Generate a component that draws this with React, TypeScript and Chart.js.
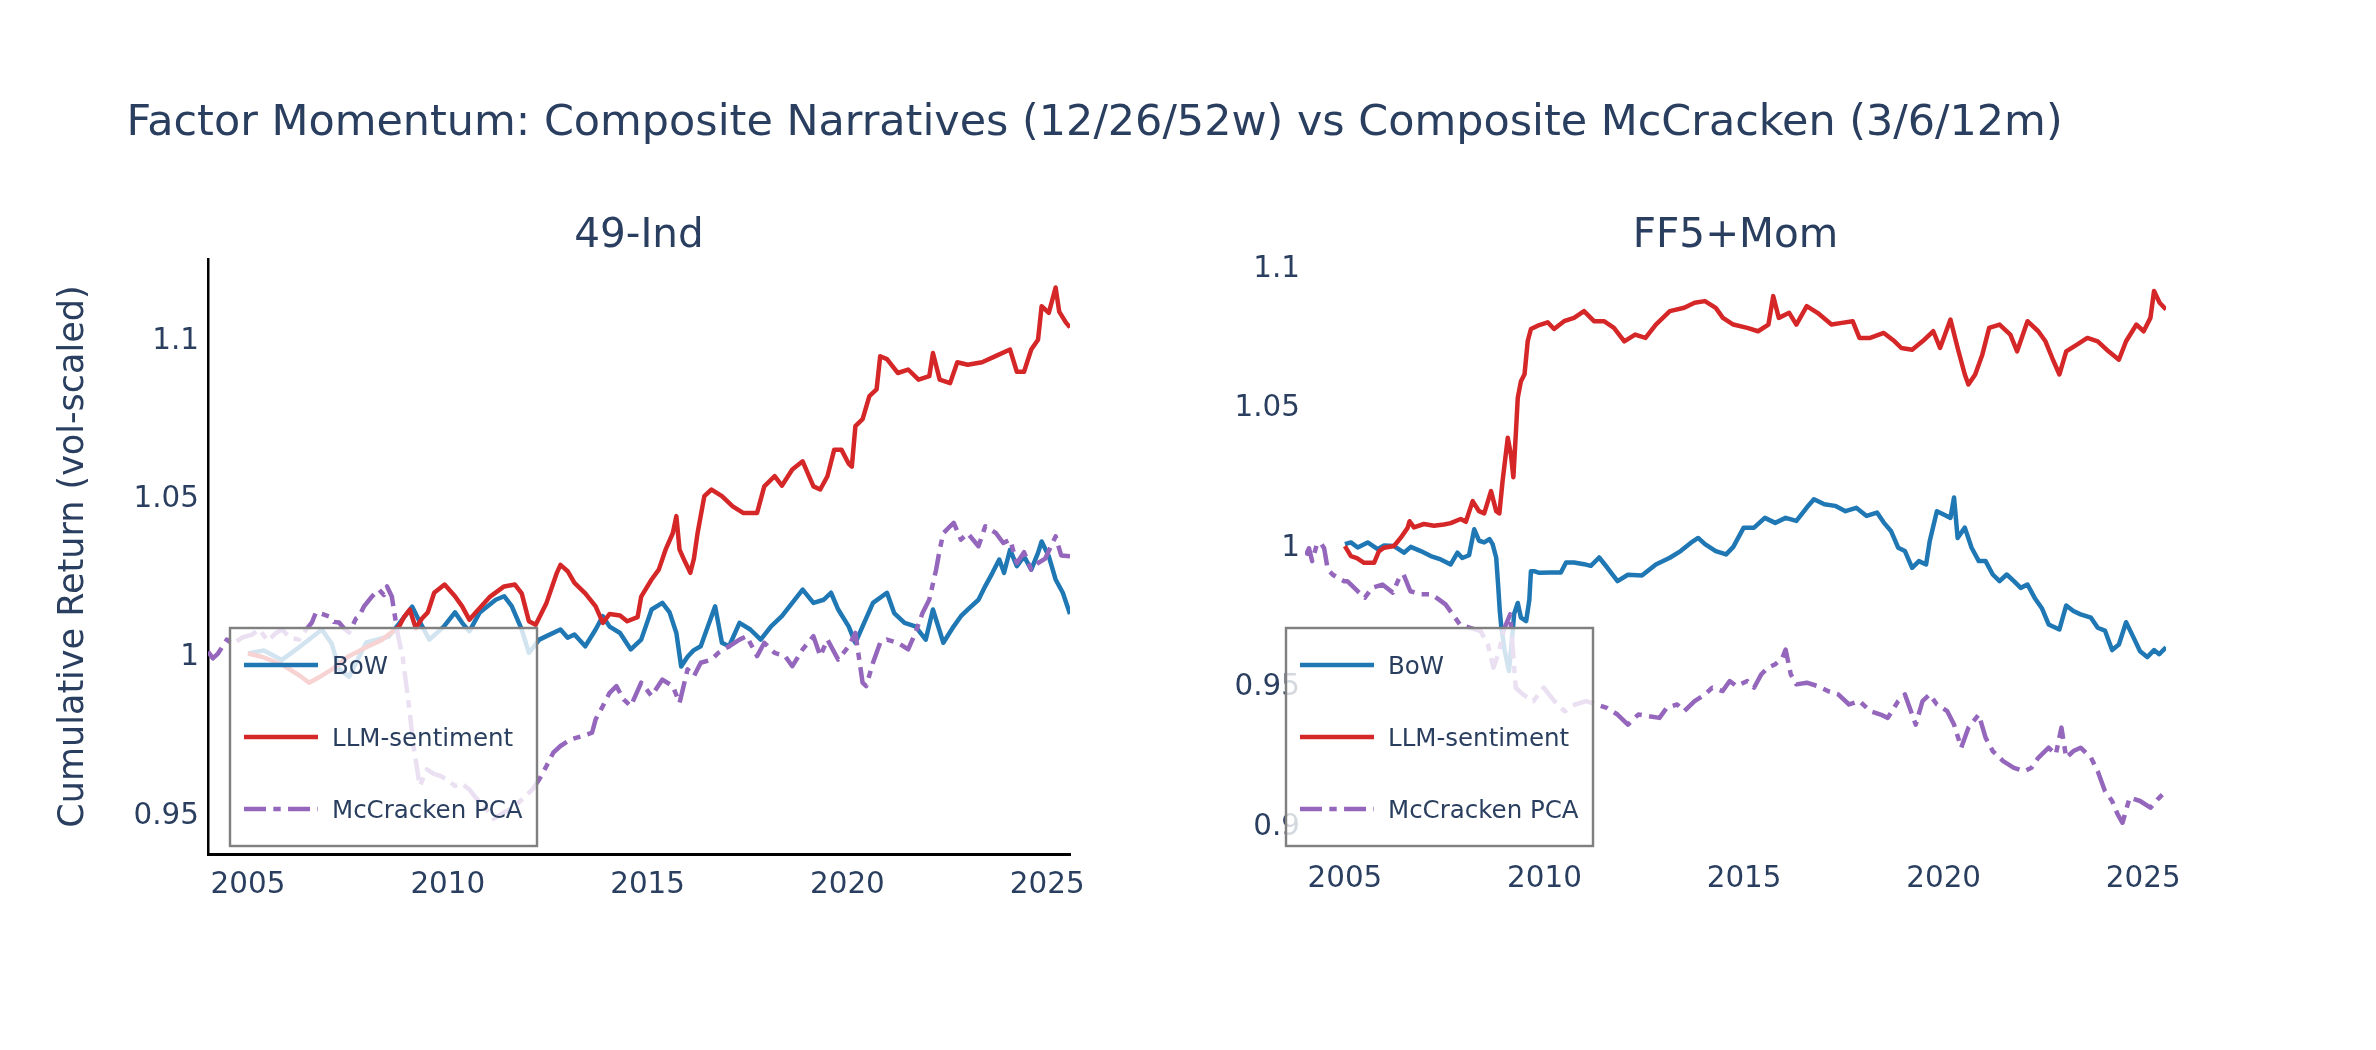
import React, { useEffect, useRef } from "react";
import { Chart, registerables } from "chart.js";

Chart.register(...registerables);

const FONT = "'DejaVu Sans', Verdana, sans-serif";
const INK = "#2a3f5f";

const MAIN_TITLE = "Factor Momentum: Composite Narratives (12/26/52w) vs Composite McCracken (3/6/12m)";
const PANEL_TITLES = ["49-Ind", "FF5+Mom"];
const Y_TITLE = "Cumulative Return (vol-scaled)";
const SERIES_NAMES = ["BoW", "LLM-sentiment", "McCracken PCA"];
const SERIES_COLORS = ["#1f77b4", "#d62728", "#9467bd"];

const YEAR_TICKS = [2005, 2010, 2015, 2020, 2025];
const IND_Y_TICKS = [0.95, 1, 1.05, 1.1];
const FF5_Y_TICKS = [0.9, 0.95, 1, 1.05, 1.1];

// ---------- 49-Ind panel ----------
const IND_BOW_T = [2005.0, 2005.4, 2005.85, 2006.28, 2006.85, 2007.1, 2007.28, 2007.53, 2007.96, 2008.53, 2008.86, 2009.11, 2009.3, 2009.54, 2009.9, 2010.18, 2010.36, 2010.54, 2010.8, 2011.2, 2011.41, 2011.6, 2011.85, 2012.03, 2012.29, 2012.47, 2012.82, 2013.0, 2013.17, 2013.44, 2013.7, 2013.88, 2014.05, 2014.31, 2014.58, 2014.84, 2015.1, 2015.37, 2015.55, 2015.72, 2015.84, 2016.0, 2016.15, 2016.33, 2016.51, 2016.69, 2016.86, 2017.04, 2017.3, 2017.57, 2017.83, 2018.09, 2018.36, 2018.62, 2018.88, 2019.15, 2019.41, 2019.59, 2019.77, 2020.03, 2020.2, 2020.38, 2020.64, 2020.99, 2021.17, 2021.43, 2021.7, 2021.96, 2022.14, 2022.4, 2022.66, 2022.84, 2023.01, 2023.28, 2023.45, 2023.63, 2023.8, 2023.92, 2024.07, 2024.24, 2024.42, 2024.6, 2024.77, 2024.86, 2025.04, 2025.21, 2025.39, 2025.57];
const IND_BOW_V = [1.0, 1.001, 0.998, 1.002, 1.0076, 1.003, 0.995, 0.9927, 1.0035, 1.0054, 1.0107, 1.0148, 1.01, 1.0044, 1.0085, 1.013, 1.0097, 1.007, 1.013, 1.017, 1.0181, 1.015, 1.0076, 1.0002, 1.0044, 1.0055, 1.0076, 1.005, 1.006, 1.0023, 1.0076, 1.0118, 1.0085, 1.0065, 1.0013, 1.0044, 1.0139, 1.016, 1.013, 1.0065, 0.9959, 0.999, 1.001, 1.0023, 1.0086, 1.0149, 1.0034, 1.0023, 1.0097, 1.0076, 1.0044, 1.0086, 1.0118, 1.016, 1.0202, 1.016, 1.017, 1.0192, 1.0139, 1.0086, 1.0034, 1.0086, 1.016, 1.0192, 1.0128, 1.0097, 1.0086, 1.0044, 1.0139, 1.0034, 1.0086, 1.0118, 1.0139, 1.017, 1.0213, 1.0255, 1.0297, 1.0255, 1.0328, 1.0276, 1.0307, 1.0265, 1.0318, 1.0354, 1.0307, 1.0234, 1.0192, 1.0125];

const IND_LLM_T = [2005.0, 2005.35, 2005.85, 2006.3, 2006.53, 2006.78, 2007.1, 2007.5, 2007.96, 2008.36, 2008.78, 2008.9, 2009.05, 2009.2, 2009.35, 2009.5, 2009.66, 2009.92, 2010.18, 2010.36, 2010.54, 2010.7, 2011.06, 2011.41, 2011.68, 2011.85, 2012.03, 2012.2, 2012.47, 2012.73, 2012.82, 2013.0, 2013.17, 2013.44, 2013.7, 2013.88, 2014.05, 2014.31, 2014.49, 2014.75, 2014.84, 2015.1, 2015.28, 2015.45, 2015.63, 2015.72, 2015.8, 2015.9, 2016.07, 2016.16, 2016.25, 2016.42, 2016.6, 2016.86, 2017.13, 2017.39, 2017.74, 2017.92, 2018.18, 2018.36, 2018.62, 2018.88, 2019.15, 2019.32, 2019.5, 2019.67, 2019.85, 2020.03, 2020.11, 2020.2, 2020.38, 2020.55, 2020.73, 2020.82, 2020.99, 2021.26, 2021.52, 2021.78, 2022.05, 2022.14, 2022.31, 2022.57, 2022.75, 2023.01, 2023.37, 2023.72, 2024.07, 2024.24, 2024.42, 2024.6, 2024.77, 2024.86, 2025.04, 2025.21, 2025.3, 2025.47, 2025.57];
const IND_LLM_V = [1.0, 0.999, 0.9965, 0.993, 0.9908, 0.9925, 0.995, 0.999, 1.002, 1.0044, 1.0085, 1.0114, 1.0139, 1.008, 1.011, 1.013, 1.0192, 1.0218, 1.0181, 1.0149, 1.0107, 1.013, 1.018, 1.0212, 1.0218, 1.019, 1.0102, 1.0091, 1.016, 1.0255, 1.028, 1.026, 1.0223, 1.019, 1.0149, 1.0097, 1.0125, 1.012, 1.0102, 1.0115, 1.018, 1.0234, 1.0265, 1.0328, 1.038, 1.0434, 1.0328, 1.03, 1.0255, 1.03, 1.038, 1.0497, 1.0518, 1.0497, 1.0465, 1.0444, 1.0444, 1.0528, 1.056, 1.053, 1.0581, 1.0607, 1.0528, 1.0518, 1.056, 1.0644, 1.0644, 1.06, 1.059, 1.0718, 1.074, 1.0813, 1.0834, 1.0939, 1.093, 1.0886, 1.0897, 1.0865, 1.0876, 1.0949, 1.0865, 1.0854, 1.092, 1.0912, 1.092, 1.094, 1.096, 1.089, 1.089, 1.096, 1.0991, 1.1097, 1.1076, 1.1156, 1.108, 1.1045, 1.103];

const IND_PCA_T = [2004.0, 2004.12, 2004.25, 2004.47, 2004.62, 2004.85, 2005.1, 2005.28, 2005.5, 2005.7, 2005.85, 2006.05, 2006.28, 2006.45, 2006.6, 2006.7, 2006.85, 2007.03, 2007.15, 2007.28, 2007.4, 2007.53, 2007.7, 2007.78, 2007.9, 2008.1, 2008.28, 2008.4, 2008.48, 2008.6, 2008.75, 2008.87, 2009.04, 2009.13, 2009.22, 2009.3, 2009.48, 2009.65, 2009.83, 2010.0, 2010.18, 2010.35, 2010.54, 2010.7, 2010.89, 2011.15, 2011.41, 2011.6, 2011.77, 2012.12, 2012.29, 2012.47, 2012.64, 2012.82, 2013.08, 2013.35, 2013.61, 2013.7, 2013.88, 2014.05, 2014.22, 2014.4, 2014.58, 2014.84, 2015.1, 2015.37, 2015.63, 2015.8, 2016.0, 2016.16, 2016.33, 2016.6, 2016.77, 2017.04, 2017.3, 2017.48, 2017.74, 2017.92, 2018.18, 2018.44, 2018.62, 2018.88, 2019.15, 2019.32, 2019.5, 2019.77, 2020.03, 2020.2, 2020.38, 2020.47, 2020.64, 2020.82, 2020.99, 2021.26, 2021.52, 2021.7, 2021.88, 2022.05, 2022.22, 2022.31, 2022.4, 2022.57, 2022.66, 2022.84, 2023.01, 2023.28, 2023.45, 2023.72, 2023.9, 2024.07, 2024.24, 2024.42, 2024.6, 2024.77, 2024.95, 2025.21, 2025.35, 2025.57];
const IND_PCA_V = [1.0006, 0.9985, 1.0, 1.0044, 1.003, 1.005, 1.006, 1.0076, 1.004, 1.0065, 1.0076, 1.005, 1.0044, 1.0075, 1.0098, 1.013, 1.0125, 1.0117, 1.01, 1.0098, 1.008, 1.0066, 1.011, 1.0117, 1.0148, 1.018, 1.0202, 1.0185, 1.0212, 1.018, 1.006, 0.999, 0.9823, 0.9718, 0.9645, 0.9582, 0.9634, 0.962, 0.9613, 0.96, 0.9582, 0.959, 0.9571, 0.9545, 0.952, 0.9478, 0.9499, 0.951, 0.9529, 0.9571, 0.9603, 0.9645, 0.9687, 0.9708, 0.9729, 0.9739, 0.975, 0.9792, 0.9834, 0.9876, 0.9897, 0.9855, 0.9834, 0.9908, 0.9866, 0.9918, 0.9897, 0.9844, 0.995, 0.9929, 0.9971, 0.9981, 1.0002, 1.0023, 1.0044, 1.0055, 0.9992, 1.0034, 1.0002, 0.9992, 0.996, 1.0013, 1.0055, 0.9992, 1.0044, 0.9981, 1.0023, 1.0065, 0.9908, 0.9897, 0.9971, 1.0034, 1.0044, 1.0034, 1.0013, 1.0065, 1.0128, 1.0171, 1.0265, 1.0328, 1.038, 1.0402, 1.0413, 1.036, 1.038, 1.0339, 1.0402, 1.038, 1.0349, 1.036, 1.0286, 1.032, 1.0265, 1.0286, 1.03, 1.037, 1.031, 1.0307];

// ---------- FF5+Mom panel ----------
const FF5_BOW_T = [2005.0, 2005.15, 2005.32, 2005.57, 2005.82, 2005.98, 2006.23, 2006.48, 2006.65, 2006.9, 2007.15, 2007.4, 2007.65, 2007.82, 2007.94, 2008.11, 2008.24, 2008.36, 2008.49, 2008.62, 2008.7, 2008.79, 2008.84, 2008.88, 2008.92, 2009.0, 2009.11, 2009.18, 2009.24, 2009.33, 2009.41, 2009.54, 2009.62, 2009.66, 2009.74, 2009.87, 2010.16, 2010.41, 2010.54, 2010.74, 2010.99, 2011.16, 2011.37, 2011.57, 2011.83, 2012.09, 2012.44, 2012.79, 2013.14, 2013.41, 2013.67, 2013.85, 2014.02, 2014.29, 2014.55, 2014.73, 2014.99, 2015.25, 2015.52, 2015.78, 2016.04, 2016.31, 2016.57, 2016.75, 2017.01, 2017.28, 2017.54, 2017.81, 2018.07, 2018.33, 2018.5, 2018.68, 2018.86, 2019.03, 2019.21, 2019.38, 2019.56, 2019.65, 2019.83, 2020.0, 2020.17, 2020.26, 2020.35, 2020.53, 2020.7, 2020.88, 2021.05, 2021.23, 2021.4, 2021.58, 2021.76, 2021.93, 2022.1, 2022.28, 2022.46, 2022.63, 2022.9, 2023.07, 2023.25, 2023.43, 2023.69, 2023.86, 2024.04, 2024.22, 2024.39, 2024.57, 2024.74, 2024.92, 2025.1, 2025.27, 2025.4, 2025.57];
const FF5_BOW_V = [1.0, 1.0006, 0.9988, 1.0006, 0.9982, 0.9995, 0.9993, 0.9969, 0.999, 0.9975, 0.9957, 0.9945, 0.9927, 0.9969, 0.995, 0.996, 1.0053, 1.0012, 1.0006, 1.0018, 1.0, 0.9951, 0.985, 0.976, 0.97, 0.962, 0.9545, 0.965, 0.975, 0.9789, 0.9736, 0.9724, 0.98, 0.9903, 0.9903, 0.9897, 0.9898, 0.9898, 0.9934, 0.9934, 0.9928, 0.9922, 0.9952, 0.9916, 0.9867, 0.989, 0.9887, 0.9927, 0.9951, 0.9975, 1.0005, 1.0022, 1.0, 0.9975, 0.9963, 0.999, 1.0059, 1.0059, 1.0094, 1.0076, 1.0094, 1.0083, 1.0131, 1.0161, 1.0143, 1.0137, 1.0118, 1.013, 1.0101, 1.0113, 1.0077, 1.0047, 0.9987, 0.9975, 0.9915, 0.9939, 0.9927, 1.001, 1.0118, 1.0106, 1.0094, 1.0167, 1.0022, 1.0059, 0.9987, 0.9939, 0.9939, 0.9891, 0.9867, 0.9891, 0.9867, 0.9843, 0.9855, 0.9807, 0.977, 0.9712, 0.9694, 0.978, 0.976, 0.9748, 0.9736, 0.97, 0.969, 0.962, 0.964, 0.972, 0.967, 0.9616, 0.9595, 0.962, 0.9605, 0.963];

const FF5_LLM_T = [2005.0, 2005.15, 2005.3, 2005.48, 2005.73, 2005.85, 2005.98, 2006.23, 2006.4, 2006.57, 2006.62, 2006.73, 2006.98, 2007.23, 2007.48, 2007.65, 2007.9, 2008.03, 2008.2, 2008.36, 2008.49, 2008.66, 2008.79, 2008.87, 2008.95, 2009.08, 2009.16, 2009.22, 2009.29, 2009.33, 2009.41, 2009.5, 2009.58, 2009.66, 2009.83, 2010.08, 2010.24, 2010.49, 2010.74, 2010.99, 2011.24, 2011.49, 2011.74, 2012.0, 2012.27, 2012.53, 2012.79, 2013.14, 2013.5, 2013.76, 2014.02, 2014.29, 2014.47, 2014.73, 2015.08, 2015.35, 2015.61, 2015.73, 2015.87, 2016.13, 2016.31, 2016.57, 2016.84, 2017.19, 2017.45, 2017.72, 2017.89, 2018.16, 2018.5, 2018.77, 2018.94, 2019.21, 2019.47, 2019.74, 2019.91, 2020.17, 2020.35, 2020.53, 2020.62, 2020.79, 2020.97, 2021.14, 2021.4, 2021.67, 2021.84, 2022.1, 2022.37, 2022.55, 2022.72, 2022.9, 2023.07, 2023.34, 2023.6, 2023.86, 2024.13, 2024.39, 2024.57, 2024.83, 2025.01, 2025.18, 2025.27, 2025.41, 2025.57];
const FF5_LLM_V = [0.9993, 0.9957, 0.995, 0.9933, 0.9933, 0.9974, 0.9987, 0.9993, 1.0023, 1.0058, 1.0082, 1.006, 1.0072, 1.0066, 1.007, 1.0075, 1.009, 1.008, 1.0154, 1.0118, 1.011, 1.019, 1.0118, 1.011, 1.0226, 1.0381, 1.032, 1.024, 1.0417, 1.0524, 1.0584, 1.0609, 1.0728, 1.0771, 1.0783, 1.0795, 1.0771, 1.0799, 1.0811, 1.0835, 1.0799, 1.0799, 1.0775, 1.0727, 1.0751, 1.0739, 1.0787, 1.0835, 1.0847, 1.0865, 1.0871, 1.0847, 1.0811, 1.0787, 1.0775, 1.0763, 1.0787, 1.0889, 1.0811, 1.0829, 1.0787, 1.0853, 1.0829, 1.0787, 1.0793, 1.0799, 1.0739, 1.0739, 1.0757, 1.0727, 1.0703, 1.0697, 1.0727, 1.0763, 1.0703, 1.0805, 1.0703, 1.0608, 1.0572, 1.0608, 1.068, 1.0775, 1.0787, 1.0751, 1.0691, 1.0799, 1.0763, 1.0727, 1.0667, 1.0608, 1.0691, 1.0715, 1.0739, 1.0727, 1.0691, 1.0661, 1.0727, 1.0787, 1.0763, 1.0811, 1.0907, 1.0865, 1.0841];

const FF5_PCA_T = [2004.02, 2004.1, 2004.18, 2004.3, 2004.4, 2004.48, 2004.57, 2004.69, 2004.82, 2004.98, 2005.06, 2005.32, 2005.5, 2005.68, 2005.94, 2006.2, 2006.38, 2006.47, 2006.64, 2006.91, 2007.17, 2007.35, 2007.52, 2007.7, 2007.88, 2008.14, 2008.4, 2008.58, 2008.72, 2008.84, 2009.0, 2009.14, 2009.28, 2009.46, 2009.72, 2009.98, 2010.25, 2010.51, 2010.77, 2011.04, 2011.3, 2011.56, 2011.83, 2012.09, 2012.35, 2012.62, 2012.88, 2013.06, 2013.32, 2013.5, 2013.76, 2014.02, 2014.2, 2014.46, 2014.64, 2014.81, 2015.08, 2015.25, 2015.43, 2015.6, 2015.78, 2015.96, 2016.04, 2016.17, 2016.31, 2016.57, 2016.84, 2017.1, 2017.36, 2017.63, 2017.89, 2018.16, 2018.42, 2018.6, 2018.86, 2019.03, 2019.21, 2019.3, 2019.47, 2019.65, 2019.83, 2020.09, 2020.26, 2020.44, 2020.62, 2020.88, 2021.05, 2021.23, 2021.49, 2021.76, 2022.02, 2022.2, 2022.37, 2022.63, 2022.81, 2022.95, 2023.07, 2023.25, 2023.43, 2023.69, 2023.86, 2024.04, 2024.22, 2024.36, 2024.48, 2024.66, 2024.92, 2025.18, 2025.36, 2025.57];
const FF5_PCA_V = [0.996, 0.9985, 0.9939, 1.0, 1.0003, 0.9985, 0.9909, 0.9891, 0.9879, 0.9867, 0.9867, 0.9831, 0.9808, 0.9843, 0.9855, 0.9826, 0.9885, 0.9891, 0.9831, 0.982, 0.982, 0.9802, 0.9784, 0.9748, 0.9712, 0.97, 0.9688, 0.964, 0.9557, 0.9605, 0.97, 0.9748, 0.9485, 0.9461, 0.9437, 0.9485, 0.9437, 0.94, 0.9425, 0.9437, 0.9425, 0.9413, 0.9389, 0.9353, 0.9389, 0.9383, 0.9377, 0.9413, 0.9425, 0.9401, 0.9437, 0.9461, 0.9485, 0.9473, 0.9509, 0.9491, 0.9509, 0.9485, 0.9533, 0.9557, 0.9569, 0.9592, 0.9622, 0.9533, 0.9497, 0.9503, 0.9491, 0.9473, 0.9461, 0.9425, 0.9437, 0.9401, 0.9389, 0.9377, 0.9437, 0.9461, 0.9389, 0.9353, 0.9437, 0.9461, 0.9425, 0.9401, 0.9353, 0.927, 0.9342, 0.9389, 0.9306, 0.9258, 0.9222, 0.9198, 0.9186, 0.9198, 0.9234, 0.927, 0.9246, 0.9342, 0.9234, 0.9258, 0.927, 0.9234, 0.9186, 0.9115, 0.9079, 0.9031, 0.9001, 0.9091, 0.9079, 0.9055, 0.9085, 0.9115];

const X_MIN = 2004.0;
const X_MAX = 2025.57;
const IND_Y_RANGE = [0.9367, 1.1246];
const FF5_Y_RANGE = [0.8889, 1.1022];

// ---------- layout constants (pixels) ----------
const PAGE_W = 2376;
const PAGE_H = 1050;
const PLOT_TOP = 259;
const PLOT_BOTTOM = 854;
const LINE_W = 4.5;
const PCA_DASH = [22, 7.35, 7.35, 7.35];

function pts(t: number[], v: number[]) {
  return t.map((x, i) => ({ x, y: v[i] }));
}

function makeDatasets(series: [number[], number[]][]) {
  return series.map(([t, v], i) => ({
    label: SERIES_NAMES[i],
    data: pts(t, v),
    borderColor: SERIES_COLORS[i],
    backgroundColor: SERIES_COLORS[i],
    borderWidth: LINE_W,
    borderDash: i === 2 ? PCA_DASH : [],
    borderCapStyle: "butt" as const,
    borderJoinStyle: "round" as const,
    pointRadius: 0,
    tension: 0,
    fill: false,
    order: 3 - i,
  }));
}

function fmtNum(v: number) {
  return String(Number(Number(v).toFixed(2)));
}

type PanelSpec = {
  datasets: any[];
  yRange: number[];
  yTicks: number[];
  padLeft: number;
  padRight: number;
  yAxisW: number;
  yTickPad: number;
  xTickPad: number;
  axisLines: boolean;
  yTitle: boolean;
  subtitle: string;
  legendLeft: number;
  mainTitle: boolean;
};

function overlayPlugin(spec: PanelSpec) {
  return {
    id: "overlay",
    afterDraw(chart: any) {
      const ctx: CanvasRenderingContext2D = chart.ctx;
      const area = chart.chartArea;
      ctx.save();
      ctx.fillStyle = INK;
      ctx.textBaseline = "alphabetic";
      if (spec.mainTitle) {
        ctx.font = `42.9px ${FONT}`;
        ctx.textAlign = "left";
        ctx.fillText(MAIN_TITLE, 126.5, 135);
      }
      ctx.font = `40.5px ${FONT}`;
      ctx.textAlign = "center";
      ctx.fillText(spec.subtitle, (area.left + area.right) / 2, 246.5);

      // legend
      const L = spec.legendLeft;
      const T = 628;
      const Wd = 307;
      const Hd = 218;
      ctx.fillStyle = "rgba(255,255,255,0.8)";
      ctx.fillRect(L, T, Wd, Hd);
      ctx.strokeStyle = "#808080";
      ctx.lineWidth = 2.45;
      ctx.setLineDash([]);
      ctx.strokeRect(L, T, Wd, Hd);
      ctx.font = `24.5px ${FONT}`;
      ctx.textAlign = "left";
      chart.data.datasets.forEach((ds: any, i: number) => {
        const y = T + 37 + i * 72;
        ctx.beginPath();
        ctx.strokeStyle = ds.borderColor;
        ctx.lineWidth = LINE_W;
        ctx.lineCap = "butt";
        ctx.setLineDash(ds.borderDash || []);
        ctx.moveTo(L + 14, y);
        ctx.lineTo(L + 88, y);
        ctx.stroke();
        ctx.setLineDash([]);
        ctx.fillStyle = INK;
        ctx.fillText(ds.label, L + 102, y + 8.9);
      });
      ctx.restore();
    },
  };
}

function makeConfig(spec: PanelSpec): any {
  return {
    type: "line",
    data: { datasets: spec.datasets },
    options: {
      animation: false,
      responsive: false,
      devicePixelRatio: 1,
      events: [],
      layout: {
        padding: { left: spec.padLeft, right: spec.padRight, top: PLOT_TOP, bottom: 0 },
      },
      plugins: {
        legend: { display: false },
        title: { display: false },
        tooltip: { enabled: false },
      },
      scales: {
        x: {
          type: "linear",
          min: X_MIN,
          max: X_MAX,
          grid: { display: false, drawTicks: false },
          border: { display: spec.axisLines, color: "#000000", width: 3 },
          ticks: {
            padding: spec.xTickPad,
            color: INK,
            font: { family: FONT, size: 29.4 },
            autoSkip: false,
            maxRotation: 0,
            callback: (v: number) => String(v),
          },
          afterBuildTicks: (axis: any) => {
            axis.ticks = YEAR_TICKS.map((value) => ({ value }));
          },
          afterFit: (axis: any) => {
            axis.height = PAGE_H - PLOT_BOTTOM;
          },
        },
        y: {
          type: "linear",
          min: spec.yRange[0],
          max: spec.yRange[1],
          grid: { display: false, drawTicks: false },
          border: { display: spec.axisLines, color: "#000000", width: 2.5 },
          ticks: {
            padding: spec.yTickPad,
            labelOffset: 4,
            color: INK,
            font: { family: FONT, size: 29.4 },
            autoSkip: false,
            callback: (v: number) => fmtNum(v),
          },
          title: {
            display: spec.yTitle,
            text: Y_TITLE,
            color: INK,
            font: { family: FONT, size: 35 },
            padding: { top: 53, bottom: 0 },
          },
          afterBuildTicks: (axis: any) => {
            axis.ticks = spec.yTicks.map((value) => ({ value }));
          },
          afterFit: (axis: any) => {
            axis.width = spec.yAxisW;
          },
        },
      },
    },
    plugins: [overlayPlugin(spec)],
  };
}

export default function App() {
  const leftRef = useRef<HTMLCanvasElement | null>(null);
  const rightRef = useRef<HTMLCanvasElement | null>(null);

  useEffect(() => {
    const leftSpec: PanelSpec = {
      datasets: makeDatasets([
        [IND_BOW_T, IND_BOW_V],
        [IND_LLM_T, IND_LLM_V],
        [IND_PCA_T, IND_PCA_V],
      ]),
      yRange: IND_Y_RANGE,
      yTicks: IND_Y_TICKS,
      padLeft: 0,
      padRight: PAGE_W - 1070,
      yAxisW: 208,
      yTickPad: 9,
      xTickPad: 13.4,
      axisLines: true,
      yTitle: true,
      subtitle: PANEL_TITLES[0],
      legendLeft: 230,
      mainTitle: true,
    };
    const rightSpec: PanelSpec = {
      datasets: makeDatasets([
        [FF5_BOW_T, FF5_BOW_V],
        [FF5_LLM_T, FF5_LLM_V],
        [FF5_PCA_T, FF5_PCA_V],
      ]),
      yRange: FF5_Y_RANGE,
      yTicks: FF5_Y_TICKS,
      padLeft: 0,
      padRight: PAGE_W - 2166,
      yAxisW: 155,
      yTickPad: 5,
      xTickPad: 7.9,
      axisLines: false,
      yTitle: false,
      subtitle: PANEL_TITLES[1],
      legendLeft: 136,
      mainTitle: false,
    };
    const c1 = new Chart(leftRef.current as HTMLCanvasElement, makeConfig(leftSpec));
    const c2 = new Chart(rightRef.current as HTMLCanvasElement, makeConfig(rightSpec));
    return () => {
      c1.destroy();
      c2.destroy();
    };
  }, []);

  return (
    <div
      style={{
        position: "absolute",
        left: 0,
        top: 0,
        width: PAGE_W,
        height: PAGE_H,
        background: "#ffffff",
        overflow: "hidden",
      }}
    >
      <canvas
        ref={leftRef}
        width={PAGE_W}
        height={PAGE_H}
        style={{ position: "absolute", left: 0, top: 0, width: PAGE_W, height: PAGE_H }}
      />
      <canvas
        ref={rightRef}
        width={PAGE_W - 1150}
        height={PAGE_H}
        style={{ position: "absolute", left: 1150, top: 0, width: PAGE_W - 1150, height: PAGE_H }}
      />
    </div>
  );
}
